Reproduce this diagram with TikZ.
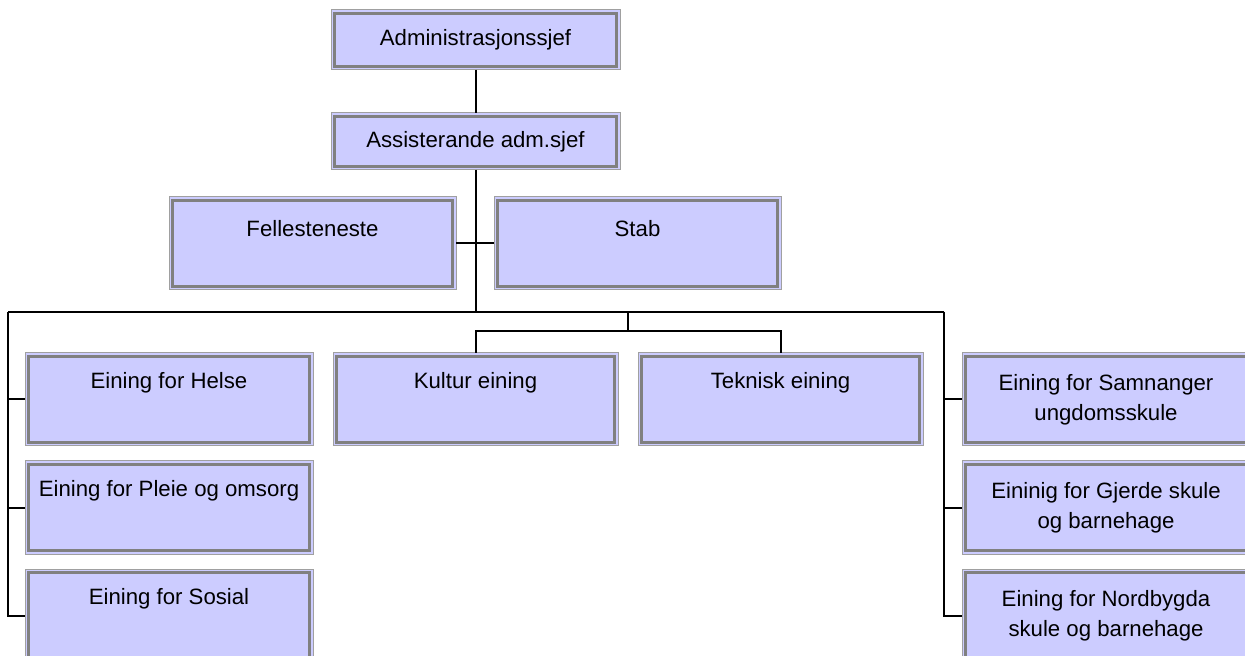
\documentclass[tikz,border=0pt]{standalone}
\usepackage{fontspec}
\setmainfont{Liberation Sans}
\definecolor{lav}{HTML}{CCCCFF}
\definecolor{outerg}{HTML}{A0A0A0}
\definecolor{innerg}{HTML}{808080}
\tikzset{
  box/.style={rectangle, draw=outerg, line width=0.5pt, fill=lav, anchor=north west,
    inner sep=0pt, outer sep=0pt, align=center,
    font=\fontsize{11.1}{15}\selectfont,
    path picture={\draw[innerg, line width=1.4pt]
      ([xshift=1.8pt,yshift=-1.8pt]path picture bounding box.north west) rectangle
      ([xshift=-1.8pt,yshift=1.8pt]path picture bounding box.south east);}},
  topbox/.style={box, minimum width=144.5pt},
  bigbox/.style={box, minimum width=144pt, minimum height=46.5pt},
  lbl/.style={anchor=north, inner sep=0pt, align=center, font=\fontsize{11.1}{15}\selectfont},
  conn/.style={draw=black, line width=1pt}
}
\begin{document}
\begin{tikzpicture}[x=0.5pt,y=-0.5pt]
\useasboundingbox (0,0) rectangle (1245,656);
% top
\node[topbox, minimum height=30pt] (admin) at (331,10) {Administrasjonssjef};
\node[topbox, minimum height=28.5pt] (assist) at (331,113) {Assisterande adm.sjef};
\node[box, minimum width=143.5pt, minimum height=46.5pt,
  label={[lbl, yshift=-11.5pt]north:Fellesteneste}] (fell) at (169,197) {};
\node[box, minimum width=143.5pt, minimum height=46.5pt,
  label={[lbl, yshift=-11.5pt]north:Stab}] (stab) at (494,197) {};
% left column
\node[bigbox, label={[lbl, yshift=-9.5pt]north:Eining for Helse}] (helse) at (25,353) {};
\node[bigbox, label={[lbl, yshift=-9.5pt]north:Eining for Pleie og omsorg}] (pleie) at (25,461) {};
\node[bigbox, label={[lbl, yshift=-9.5pt]north:Eining for Sosial}] (sosial) at (25,569) {};
% middle
\node[bigbox, minimum width=142.5pt, label={[lbl, yshift=-9.5pt]north:Kultur eining}] (kultur) at (333,353) {};
\node[bigbox, minimum width=142.5pt, label={[lbl, yshift=-9.5pt]north:Teknisk eining}] (teknisk) at (638,353) {};
% right column
\node[bigbox, label={[lbl, yshift=-10.5pt]north:{Eining for Samnanger\\ungdomsskule}}] (samn) at (962,353) {};
\node[bigbox, label={[lbl, yshift=-10.5pt]north:{Eininig for Gjerde skule\\og barnehage}}] (gjerde) at (962,461) {};
\node[bigbox, label={[lbl, yshift=-10.5pt]north:{Eining for Nordbygda\\skule og barnehage}}] (nord) at (962,569) {};
% connectors
\coordinate (busL) at (8,312);
\coordinate (busR) at (944,312);
\coordinate (midTop) at (628,312);
\coordinate (midBus) at (628,331);
\draw[conn] (admin) -- (assist);
\draw[conn] (assist.south) -- (assist.south |- busL);
\draw[conn] (fell.east) -- (stab.west);
\draw[conn] (busL) -- (busR);
\draw[conn] (busL) |- (helse.west);
\draw[conn] (busL) |- (pleie.west);
\draw[conn] (busL) |- (sosial.west);
\draw[conn] (busR) |- (samn.west);
\draw[conn] (busR) |- (gjerde.west);
\draw[conn] (busR) |- (nord.west);
\draw[conn] (midTop) -- (midBus);
\draw[conn] (kultur.north) |- (midBus) -| (teknisk.north);
\end{tikzpicture}
\end{document}
